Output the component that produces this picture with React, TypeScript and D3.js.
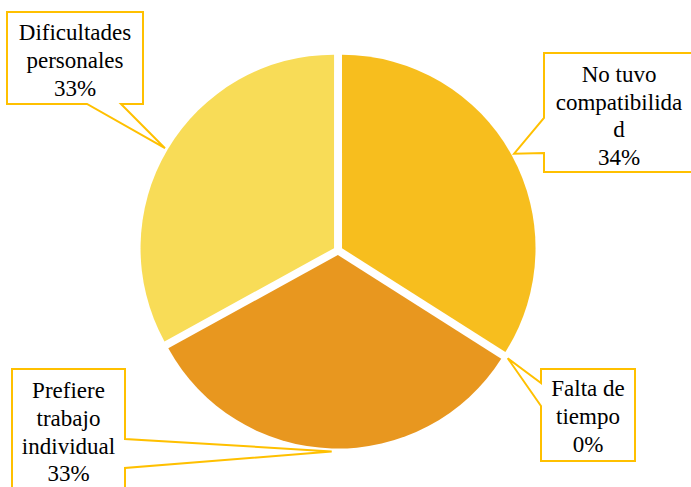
import React from "react";
import * as d3 from "d3";

const categories = ["No tuvo compatibilidad", "Falta de tiempo", "Prefiere trabajo individual", "Dificultades personales"];
const values = [34, 0, 33, 33];
const labelLines = [
  ["No tuvo", "compatibilida", "d", "34%"],
  ["Falta de", "tiempo", "0%"],
  ["Prefiere", "trabajo", "individual", "33%"],
  ["Dificultades", "personales", "33%"],
];
const colors = ["#F7BE1E", "#F5B315", "#E8971F", "#F8DC57"];

const W = 691;
const H = 487;
const CX = 338;
const CY = 250.5;
const R = 193.5;
const EXPLODE = 4.6;
const TIP_R = 201;
const LH = 27.8;

const boxes = [
  { x0: 544, y0: 53, x1: 694, y1: 172, side: "left", b0: 118, b1: 153, tx: 619, ty: 81.7 },
  { x0: 541, y0: 369, x1: 635, y1: 461, side: "left", b0: 383, b1: 406, tx: 588, ty: 396 },
  { x0: 12, y0: 369, x1: 125, y1: 500, side: "right", b0: 439, b1: 468, tx: 68.5, ty: 398 },
  { x0: 7, y0: 12, x1: 143, y1: 104, side: "bottom", b0: 87, b1: 121, tx: 75, ty: 40 },
];

function calloutPath(b: any, tip: [number, number]) {
  const [tx, ty] = tip;
  if (b.side === "left") {
    return `M${b.x0},${b.y0}H${b.x1}V${b.y1}H${b.x0}V${b.b1}L${tx},${ty}L${b.x0},${b.b0}Z`;
  }
  if (b.side === "right") {
    return `M${b.x0},${b.y0}H${b.x1}V${b.b0}L${tx},${ty}L${b.x1},${b.b1}V${b.y1}H${b.x0}Z`;
  }
  return `M${b.x0},${b.y0}H${b.x1}V${b.y1}H${b.b1}L${tx},${ty}L${b.b0},${b.y1}H${b.x0}Z`;
}

export default function App() {
  const pie = d3.pie<number>().sort(null).value((d) => d).startAngle(0).endAngle(2 * Math.PI);
  const arcs = pie(values);
  const arcGen = d3.arc<d3.PieArcDatum<number>>().innerRadius(0).outerRadius(R);

  return (
    <svg width={W} height={H} style={{ position: "absolute", left: 0, top: 0 }}>
      <rect width={W} height={H} fill="#fff" />
      <g transform={`translate(${CX},${CY})`}>
        {arcs.map((a, i) => {
          const mid = (a.startAngle + a.endAngle) / 2;
          if (a.endAngle - a.startAngle <= 0) return null;
          return (
            <path
              key={categories[i]}
              d={arcGen(a) || ""}
              transform={`translate(${EXPLODE * Math.sin(mid)},${-EXPLODE * Math.cos(mid)})`}
              fill={colors[i]}
            />
          );
        })}
      </g>
      {arcs.map((a, i) => {
        const mid = (a.startAngle + a.endAngle) / 2;
        const tip: [number, number] = [CX + TIP_R * Math.sin(mid), CY - TIP_R * Math.cos(mid)];
        const b = boxes[i];
        return (
          <path key={"p" + i} d={calloutPath(b, tip)} fill="#fff" stroke="#FFC000" strokeWidth={2} />
        );
      })}
      {labelLines.map((lines, i) =>
        lines.map((ln, j) => (
          <text
            key={i + "-" + j}
            x={boxes[i].tx}
            y={boxes[i].ty + j * LH}
            style={{ fontFamily: `"Times New Roman"`, fontSize: "23px", textAnchor: "middle" }}
          >
            {ln}
          </text>
        ))
      )}
    </svg>
  );
}
